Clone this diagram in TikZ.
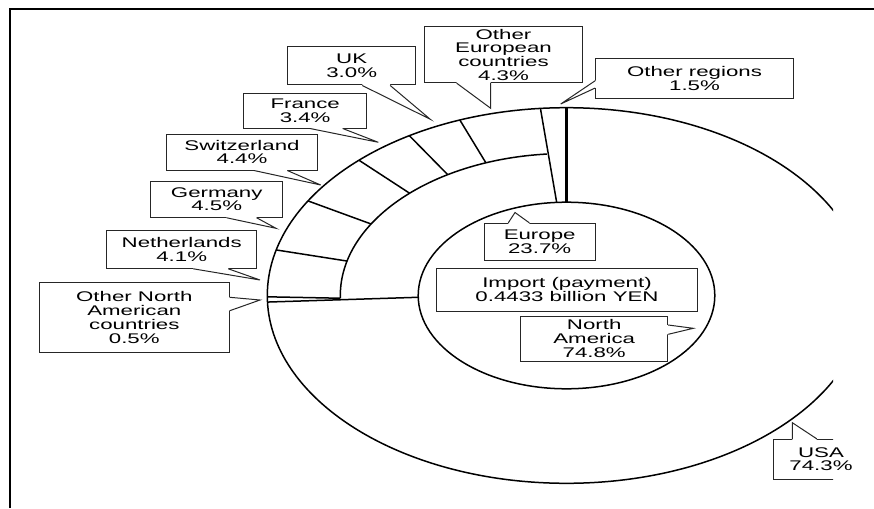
\documentclass[tikz,border=0pt]{standalone}
\usepackage{fontspec}
\newfontfamily\chartfont[FakeStretch=1.59]{Liberation Sans}
\usetikzlibrary{calc}

% pointer of a callout: two legs from the box side to the tip,
% with the box border between the legs wiped out
\newcommand\calloutpointer[4]{%
  \fill[white] ($(#1)+(#4)$) -- (#1) -- (#3) -- (#2) -- ($(#2)+(#4)$) -- cycle;
  \draw[leg] (#1) -- (#3) -- (#2);}

\begin{document}
\begin{tikzpicture}[x=1pt,y=-1pt,
  ring/.style={line width=1.5pt, line join=round},
  thickdiv/.style={line width=3.2pt},
  callbox/.style={draw=black!85, line width=1pt, fill=white, inner sep=0pt,
    align=center, font=\chartfont\fontsize{14pt}{13.8pt}\selectfont},
  plaintext/.style={inner sep=0pt, align=center,
    font=\chartfont\fontsize{14pt}{13.8pt}\selectfont},
  leg/.style={line width=1pt, black!85, line join=miter},
  frameline/.style={line width=2.2pt}]

\useasboundingbox (0,0) rectangle (874,508);

% ring radii (horizontal, vertical)
\def\rox{299.2}\def\roy{187.8}
\def\rmx{226.2}\def\rmy{142}
\def\rix{148.3}\def\riy{93.3}
\coordinate (c) at (566.5,295.5);

\begin{scope}
\clip (0,0) rectangle (833,508);

% rings
\draw[ring] (c) ellipse [x radius=\rox, y radius=\roy];
\draw[ring] (c) ellipse [x radius=\rix, y radius=\riy];
% inner band of Europe
\draw[ring] ($(c)+(-95:{\rmx} and {\rmy})$)
  arc[start angle=-95, end angle=-181.1, x radius=\rmx, y radius=\rmy];

% Other regions slice
\draw[thickdiv] ($(c)+(-90:{\rix} and {\riy})$) -- ($(c)+(-90:{\rox} and {\roy})$);
\draw[ring] ($(c)+(-93.8:{\rix} and {\riy})$) -- ($(c)+(-95:{\rox} and {\roy})$);

% European countries
\foreach \a in {110.88,121.68,133.92,149.76,165.96}
  \draw[ring] ($(c)+(-\a:{\rmx} and {\rmy})$) -- ($(c)+(-\a:{\rox} and {\roy})$);

% Netherlands / Other North American countries / USA
\draw[ring] ($(c)+(-180.4:{\rox} and {\roy})$) -- ($(c)+(-181.1:{\rmx} and {\rmy})$);
\draw[ring] ($(c)+(-182.0:{\rox} and {\roy})$) -- ($(c)+(-181.1:{\rix} and {\riy})$);

% callouts
\node[callbox, minimum width=157.6, minimum height=56] (oeu) at (503.5,54.7)
  {Other\\European\\countries\\4.3\%};
\coordinate (oeuA) at (456.7,0 |- oeu.south);
\coordinate (oeuB) at (490.7,0 |- oeu.south);
\coordinate (oeuT) at (490.7,108.3);
\calloutpointer{oeuA}{oeuB}{oeuT}{0,-1.3}

\node[callbox, minimum width=197.6, minimum height=40] (oreg) at (694.5,78.3)
  {Other regions\\1.5\%};
\coordinate (oregA) at (oreg.west |- 0,80.7);
\coordinate (oregB) at (oreg.west |- 0,88);
\coordinate (oregT) at (560.7,104);
\calloutpointer{oregA}{oregB}{oregT}{1.3,0}

\node[callbox, minimum width=128.2, minimum height=38.3] (uk) at (351.7,65.85)
  {UK\\3.0\%};
\coordinate (ukA) at (362.3,0 |- uk.south);
\coordinate (ukB) at (390.2,0 |- uk.south);
\coordinate (ukT) at (430.3,119.3);
\calloutpointer{ukA}{ukB}{ukT}{0,-1.3}

\node[callbox, minimum width=123.1, minimum height=34.7] (fr) at (305.15,110.65)
  {France\\3.4\%};
\coordinate (frA) at (310,0 |- fr.south);
\coordinate (frB) at (342.7,0 |- fr.south);
\coordinate (frT) at (378.3,142.3);
\calloutpointer{frA}{frB}{frT}{0,-1.3}

\node[callbox, minimum width=150.6, minimum height=36] (ch) at (242,152)
  {Switzerland\\4.4\%};
\coordinate (chA) at (254,0 |- ch.south);
\coordinate (chB) at (287.3,0 |- ch.south);
\coordinate (chT) at (320.7,185);
\calloutpointer{chA}{chB}{chT}{0,-1.3}

\node[callbox, minimum width=132, minimum height=36.3] (de) at (216.7,199.15)
  {Germany\\4.5\%};
\coordinate (deA) at (226.7,0 |- de.south);
\coordinate (deB) at (256.7,0 |- de.south);
\coordinate (deT) at (276,228.3);
\calloutpointer{deA}{deB}{deT}{0,-1.3}

\node[callbox, minimum width=150, minimum height=37.6] (nl) at (181.7,249.5)
  {Netherlands\\4.1\%};
\coordinate (nlA) at (193.3,0 |- nl.south);
\coordinate (nlB) at (228.3,0 |- nl.south);
\coordinate (nlT) at (260,280);
\calloutpointer{nlA}{nlB}{nlT}{0,-1.3}

\node[callbox, minimum width=190, minimum height=69.6] (ona) at (134.3,317.5)
  {Other North\\American\\countries\\0.5\%};
\coordinate (onaA) at (ona.east |- 0,297.3);
\coordinate (onaB) at (ona.east |- 0,310.7);
\coordinate (onaT) at (260,300);
\calloutpointer{onaA}{onaB}{onaT}{-1.3,0}

\node[callbox, minimum width=110.7, minimum height=36.7] (eu) at (539.65,241.65)
  {Europe\\23.7\%};
\coordinate (euA) at (508.3,0 |- eu.north);
\coordinate (euB) at (529.3,0 |- eu.north);
\coordinate (euT) at (515,212.5);
\calloutpointer{euA}{euB}{euT}{0,1.3}

\node[callbox, minimum width=260.6, minimum height=42.7] (imp) at (567,289.65)
  {Import (payment)\\0.4433 billion YEN};

\node[callbox, minimum width=147, minimum height=45] (na) at (594.2,338.5)
  {North\\America\\74.8\%};
\coordinate (naA) at (na.east |- 0,325);
\coordinate (naB) at (na.east |- 0,334.3);
\coordinate (naT) at (693.3,328.3);
\calloutpointer{naA}{naB}{naT}{-1.3,0}

\node[callbox, minimum width=96, minimum height=39.7] (usa) at (821,459.15) {};
\coordinate (usaA) at (792.3,0 |- usa.north);
\coordinate (usaB) at (816.7,0 |- usa.north);
\coordinate (usaT) at (792.3,422.7);
\calloutpointer{usaA}{usaB}{usaT}{0,1.3}
\end{scope}

% USA label runs past the cut edge of the chart
\node[plaintext] (usatext) at (usa.center) {USA\\74.3\%};

% frame
\draw[frameline] (10,508) -- (10,9.3) -- (874,9.3);
\end{tikzpicture}
\end{document}
